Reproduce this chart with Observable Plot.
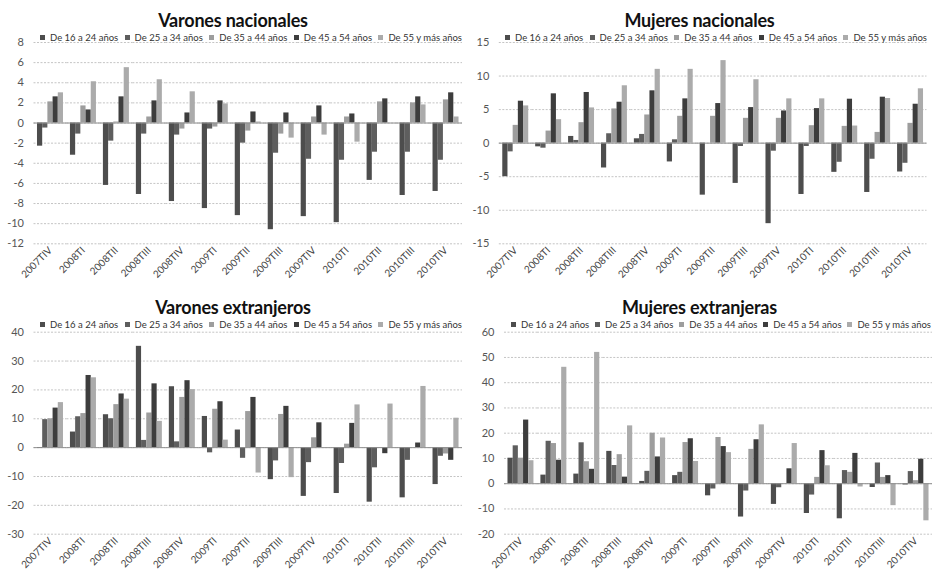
<!DOCTYPE html>
<html>
<head>
<meta charset="utf-8">
<script src="https://cdn.jsdelivr.net/npm/d3@7"></script>
<script src="https://cdn.jsdelivr.net/npm/@observablehq/plot@0.6"></script>
<style>
  body { margin: 0; background: #fff; font-family: Lato, "Open Sans", sans-serif; }
  #grid { position: relative; width: 933px; height: 578px; overflow: hidden; }
  .panel { position: absolute; }
  .panel svg { display: block; }
  .title { position: absolute; left: 0; right: 0; text-align: center; font-weight: bold; font-size: 18px; line-height: 22px; color: #111; letter-spacing: -0.2px; }
  .legend { position: absolute; display: flex; justify-content: space-between; font-size: 9.5px; line-height: 12px; color: #333; white-space: nowrap; }
  .legend .sw { display: inline-block; width: 5px; height: 5px; margin-right: 5px; vertical-align: 1px; }
</style>
</head>
<body>
<div id="grid"></div>
<script>
// ---- data ----
const quarters = ["2007TIV","2008TI","2008TII","2008TIII","2008TIV","2009TI","2009TII","2009TIII","2009TIV","2010TI","2010TII","2010TIII","2010TIV"];
const ageGroups = ["De 16 a 24 años","De 25 a 34 años","De 35 a 44 años","De 45 a 54 años","De 55 y más años"];

const titles = ["Varones nacionales","Mujeres nacionales","Varones extranjeros","Mujeres extranjeras"];

// rows = quarters, columns = age groups
const varonesNacionales = [
  [-2.3,-0.5, 2.1, 2.6, 3.0],
  [-3.2,-1.1, 1.7, 1.3, 4.1],
  [-6.2,-1.8, 0.1, 2.6, 5.5],
  [-7.1,-1.1, 0.6, 2.2, 4.3],
  [-7.8,-1.2,-0.6, 1.0, 3.1],
  [-8.5,-0.6,-0.4, 2.2, 1.9],
  [-9.2,-2.0,-0.8, 1.1, 0.1],
  [-10.6,-3.0,-1.1, 1.0,-1.5],
  [-9.3,-3.6, 0.6, 1.7,-1.2],
  [-9.9,-3.7, 0.6, 0.9,-1.9],
  [-5.7,-2.9, 2.1, 2.4, 0.0],
  [-7.2,-2.9, 2.0, 2.6, 1.8],
  [-6.8,-3.7, 2.3, 3.0, 0.6]
];
const mujeresNacionales = [
  [-5.0,-1.3, 2.65, 6.25, 5.55],
  [-0.55,-0.75, 1.8, 7.35, 3.5],
  [1.0, 0.4, 3.05, 7.55, 5.25],
  [-3.7, 1.4, 5.1, 6.1, 8.55],
  [0.65, 1.3, 4.2, 7.8, 11.0],
  [-2.8, 0.5, 4.0, 6.6, 11.0],
  [-7.75, 0.0, 4.0, 5.9, 12.3],
  [-6.0,-0.5, 3.7, 5.3, 9.45],
  [-12.0,-1.2, 3.7, 4.8, 6.6],
  [-7.65,-0.5, 2.6, 5.15, 6.6],
  [-4.35,-2.85, 2.5, 6.55, 2.55],
  [-7.35,-2.4, 1.6, 6.85, 6.65],
  [-4.3,-3.0, 2.95, 5.8, 8.1]
];
const varonesExtranjeros = [
  [-0.3, 9.7, 10.0, 13.7, 15.6],
  [5.4, 10.7, 11.8, 25.0, 24.2],
  [11.4, 10.0, 14.9, 18.6, 16.8],
  [35.1, 2.5, 12.0, 22.1, 9.1],
  [21.1, 2.0, 17.4, 23.2, 20.1],
  [10.8,-1.8, 13.3, 15.9, 2.6],
  [6.1,-3.7, 12.5, 17.4,-8.8],
  [-11.1,-4.6, 11.5, 14.3,-10.4],
  [-16.9,-5.2, 3.4, 8.6, 0.0],
  [-15.9,-5.5, 1.2, 8.4, 14.8],
  [-18.9,-7.0,-0.3,-2.1, 15.1],
  [-17.4,-4.4, 0.0, 1.6, 21.2],
  [-12.8,-3.0,-2.2,-4.4, 10.2]
];
const mujeresExtranjeras = [
  [10.1, 15.0, 10.1, 25.2, 9.1],
  [3.4, 16.8, 15.9, 9.3, 46.1],
  [3.8, 16.2, 8.7, 5.7, 52.0],
  [12.8, 7.2, 11.5, 2.6, 22.9],
  [0.9, 4.9, 20.0, 10.6, 18.1],
  [3.2, 4.5, 16.3, 17.8, 8.8],
  [-4.8,-2.1, 18.3, 14.7, 12.3],
  [-13.2,-2.9, 13.6, 17.4, 23.3],
  [-8.2,-1.6, 0.0, 5.9, 15.9],
  [-11.8,-4.5, 2.5, 13.1, 7.1],
  [-13.9, 5.2, 4.5, 12.0,-1.3],
  [-1.5, 8.2, 2.5, 3.2,-8.7],
  [-0.5, 4.8, 1.2, 9.7,-14.7]
];

// y tick labels per panel
const ticksVN = [-12,-10,-8,-6,-4,-2,0,2,4,6,8];
const ticksMN = [-15,-10,-5,0,5,10,15];
const ticksVE = [-30,-20,-10,0,10,20,30,40];
const ticksME = [-20,-10,0,10,20,30,40,50,60];

// ---- styling / layout ----
const colors = ["#4d4d4d","#5e5e5e","#9d9d9d","#3d3d3d","#ababab"];

const panels = [
  {values: varonesNacionales, ticks: ticksVN, left: 0,   top: 0,   width: 466, height: 285, mL: 33.5, mR: 4,   mT: 42,   mB: 41.7, titleTop: 8.7,  legTop: 31.5, legL: 40, legR: 4},
  {values: mujeresNacionales, ticks: ticksMN, left: 466, top: 0,   width: 467, height: 285, mL: 32.8, mR: 6.5, mT: 42,   mB: 41.7, titleTop: 8.7,  legTop: 31.5, legL: 39, legR: 6},
  {values: varonesExtranjeros, ticks: ticksVE, left: 0,  top: 285, width: 466, height: 293, mL: 33.5, mR: 4,   mT: 46.7, mB: 44.3, titleTop: 10.7, legTop: 34,   legL: 40, legR: 4},
  {values: mujeresExtranjeras, ticks: ticksME, left: 466, top: 285, width: 467, height: 293, mL: 38,  mR: 1,   mT: 46.7, mB: 44.3, titleTop: 10.7, legTop: 34,   legL: 45, legR: 2}
];

const grid = document.getElementById("grid");

panels.forEach((p, k) => {
  const rows = quarters.flatMap((q, i) => ageGroups.map((g, j) => ({quarter: q, group: g, value: p.values[i][j]})));
  const ext = [p.ticks[0], p.ticks[p.ticks.length - 1]];

  const chart = Plot.plot({
    width: p.width,
    height: p.height,
    marginLeft: p.mL,
    marginRight: p.mR,
    marginTop: p.mT,
    marginBottom: p.mB,
    style: {fontFamily: "Lato, sans-serif", fontSize: "11px", color: "#555", background: "transparent"},
    fx: {domain: quarters, padding: 0, round: false, label: null},
    x: {domain: ageGroups, paddingInner: 0, paddingOuter: 0.67, round: false, axis: null},
    y: {domain: ext, label: null},
    color: {domain: ageGroups, range: colors},
    marks: [
      Plot.ruleY(p.ticks, {stroke: "#c4c4c4", strokeWidth: 1, strokeDasharray: "2,1.5"}),
      Plot.barY(rows, {fx: "quarter", x: "group", y: "value", fill: "group"}),
      Plot.ruleY([0], {stroke: "#8f8f8f", strokeWidth: 1}),
      Plot.axisY({ticks: p.ticks, tickSize: 0, tickPadding: 10, tickFormat: d => String(d), fontSize: 11, fill: "#555", label: null}),
      Plot.axisFx({anchor: "bottom", tickRotate: -45, tickSize: 0, tickPadding: 5, fontSize: 10, fill: "#444", label: null})
    ]
  });

  const panel = document.createElement("div");
  panel.className = "panel";
  panel.style.left = p.left + "px";
  panel.style.top = p.top + "px";
  panel.style.width = p.width + "px";
  panel.style.height = p.height + "px";
  panel.appendChild(chart);

  const title = document.createElement("div");
  title.className = "title";
  title.style.top = p.titleTop + "px";
  title.textContent = titles[k];
  panel.appendChild(title);

  const legend = document.createElement("div");
  legend.className = "legend";
  legend.style.top = p.legTop + "px";
  legend.style.left = p.legL + "px";
  legend.style.right = p.legR + "px";
  ageGroups.forEach((g, j) => {
    const item = document.createElement("span");
    const sw = document.createElement("span");
    sw.className = "sw";
    sw.style.background = colors[j];
    item.appendChild(sw);
    item.appendChild(document.createTextNode(g));
    legend.appendChild(item);
  });
  panel.appendChild(legend);

  grid.appendChild(panel);
});
</script>
</body>
</html>
